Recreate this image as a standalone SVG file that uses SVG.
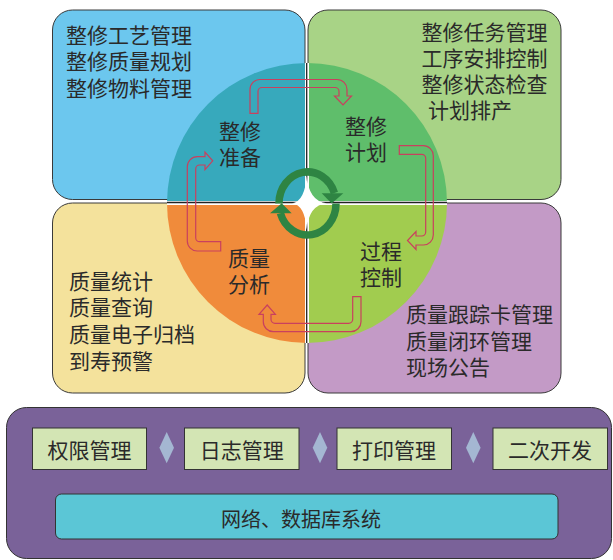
<svg xmlns="http://www.w3.org/2000/svg" width="613" height="560" viewBox="0 0 613 560">
<style>
.t{font-family:"Noto Sans CJK SC","Noto Sans CJK JP",sans-serif;font-size:21px;fill:#2a2a2a;}
.m{text-anchor:middle;}
.box{stroke:#3a3a3a;stroke-width:1;}
.pa{fill:none;stroke:#C9405E;stroke-width:1.2;stroke-linejoin:miter;}
.btn{fill:#D3E5B4;stroke:#333;stroke-width:1;}
.dia{fill:#A4B7D2;}
.ring{fill:none;stroke:#2E8443;stroke-width:7.5;}
</style>
<rect width="613" height="560" fill="#ffffff"/>

<g id="box-prep">
<rect class="box" x="52.5" y="10" width="252.5" height="189.5" rx="20" fill="#6CC7EE"/>
</g>
<g id="box-plan">
<rect class="box" x="308" y="10" width="253" height="189.5" rx="20" fill="#A8D386"/>
</g>
<g id="box-analysis">
<rect class="box" x="52.5" y="203" width="252.5" height="190" rx="20" fill="#F4E29C"/>
</g>
<g id="box-control">
<rect class="box" x="308" y="203" width="253" height="190" rx="20" fill="#C39AC6"/>
</g>

<g id="circle">
<path d="M307,203 L167,203 A140,140 0 0 1 307,63 Z" fill="#37A9BC"/>
<path d="M307,203 L307,63 A140,140 0 0 1 447,203 Z" fill="#5FBE6B"/>
<path d="M307,203 L447,203 A140,140 0 0 1 307,343 Z" fill="#A1CC4F"/>
<path d="M307,203 L307,343 A140,140 0 0 1 167,203 Z" fill="#F08B3B"/>
<line x1="307" y1="63" x2="307" y2="343" stroke="#ffffff" stroke-width="4"/>
<line x1="167" y1="203" x2="447" y2="203" stroke="#ffffff" stroke-width="4"/>
<line x1="306.7" y1="63" x2="306.7" y2="343" stroke="#222" stroke-width="1.3"/>
<line x1="167" y1="202.5" x2="447" y2="202.5" stroke="#222" stroke-width="1.3"/>
<path d="M306.7,175 Q308.5,201.5 327,203.3 Q308.5,205 306.7,230 Q305,205 292,203.3 Q305,201.5 306.7,175 Z" fill="#ffffff"/>
</g>

<g id="cycle-icon">
<path class="ring" d="M279,203.5 A28.5,31.5 0 0 1 334.4,193"/>
<path class="ring" d="M336,203.5 A28.5,31.5 0 0 1 280.4,213.3"/>
<polygon points="321.7,193.3 343.3,193.3 331.7,203.5" fill="#2E8443"/>
<polygon points="270,213.3 291.7,213.3 281.7,203.3" fill="#2E8443"/>
</g>

<g id="connectors">
<path class="pa" d="M250,113.3 L250,89.5 A10,10 0 0 1 260,79.5 L337,79.5 A10,10 0 0 1 347,89.5 L347,96 L351.5,96 L343,105 L334.5,96 L339,96 L339,91.5 A4,4 0 0 0 335,87.5 L262,87.5 A4,4 0 0 0 258,91.5 L258,113.3 Z"/>
<path class="pa" d="M399.3,145.7 L423.3,145.7 A10,10 0 0 1 433.3,155.7 L433.3,235 A10,10 0 0 1 423.3,245 L416,245 L416,249.5 L407.5,240.5 L416,231.5 L416,236 L421.7,236 A4,4 0 0 0 425.7,232 L425.7,158.3 A4,4 0 0 0 421.7,154.3 L399.3,154.3 Z"/>
<path class="pa" d="M361,296.7 L361,321.7 A10,10 0 0 1 351,331.7 L273.3,331.7 A10,10 0 0 1 263.3,321.7 L263.3,314.3 L259,314.3 L267.2,305 L275.4,314.3 L271,314.3 L271,319.3 A4,4 0 0 0 275,323.3 L348.7,323.3 A4,4 0 0 0 352.7,319.3 L352.7,296.7 Z"/>
<path class="pa" d="M220.7,251 L197.3,251 A10,10 0 0 1 187.3,241 L187.3,166.7 A10,10 0 0 1 197.3,156.7 L205,156.7 L205,152 L212.7,160.8 L205,169.6 L205,165 L199.7,165 A4,4 0 0 0 195.7,169 L195.7,237.7 A4,4 0 0 0 199.7,241.7 L220.7,241.7 Z"/>
</g>

<g id="text-prep">
<text class="t" x="66" y="43">整修工艺管理</text>
<text class="t" x="66" y="69">整修质量规划</text>
<text class="t" x="66" y="95.5">整修物料管理</text>
</g>
<g id="text-plan">
<text class="t" x="421.5" y="39.5">整修任务管理</text>
<text class="t" x="421.5" y="65.5">工序安排控制</text>
<text class="t" x="421.5" y="92">整修状态检查</text>
<text class="t" x="428" y="118">计划排产</text>
</g>
<g id="text-analysis">
<text class="t" x="69" y="288.5">质量统计</text>
<text class="t" x="69" y="315">质量查询</text>
<text class="t" x="69" y="342">质量电子归档</text>
<text class="t" x="69" y="368.5">到寿预警</text>
</g>
<g id="text-control">
<text class="t" x="406" y="322">质量跟踪卡管理</text>
<text class="t" x="406" y="348.5">质量闭环管理</text>
<text class="t" x="406" y="375">现场公告</text>
</g>

<g id="node-prep">
<text class="t" x="219" y="138.5">整修</text>
<text class="t" x="219" y="164.5">准备</text>
</g>
<g id="node-plan">
<text class="t" x="345" y="134">整修</text>
<text class="t" x="345" y="159.5">计划</text>
</g>
<g id="node-control">
<text class="t" x="360" y="259">过程</text>
<text class="t" x="360" y="285">控制</text>
</g>
<g id="node-analysis">
<text class="t" x="228" y="265.5">质量</text>
<text class="t" x="228" y="292">分析</text>
</g>

<g id="platform">
<rect x="6.5" y="407.5" width="605" height="151" rx="20" fill="#7A6299" stroke="#333" stroke-width="1"/>
</g>
<g id="btn-auth">
<rect class="btn" x="32.5" y="428" width="114" height="41.5"/>
<text class="t m" x="89.5" y="458">权限管理</text>
</g>
<g id="btn-log">
<rect class="btn" x="184.5" y="428" width="114.5" height="41.5"/>
<text class="t m" x="241.7" y="458">日志管理</text>
</g>
<g id="btn-print">
<rect class="btn" x="337" y="428" width="114.5" height="41.5"/>
<text class="t m" x="394" y="458">打印管理</text>
</g>
<g id="btn-dev">
<rect class="btn" x="493" y="428" width="114.5" height="41.5"/>
<text class="t m" x="550" y="458">二次开发</text>
</g>
<g id="separators">
<polygon class="dia" points="166.7,432 174,447.7 166.7,463.3 159.4,447.7"/>
<polygon class="dia" points="320,432 327.3,447.7 320,463.3 312.7,447.7"/>
<polygon class="dia" points="473.3,432 480.6,447.7 473.3,463.3 466,447.7"/>
</g>
<g id="db-bar">
<rect x="55.5" y="494" width="502.5" height="45" rx="6" fill="#5BC6D6" stroke="#333" stroke-width="1"/>
<text class="t m" x="301" y="526.5" style="font-size:20px">网络、数据库系统</text>
</g>
</svg>
